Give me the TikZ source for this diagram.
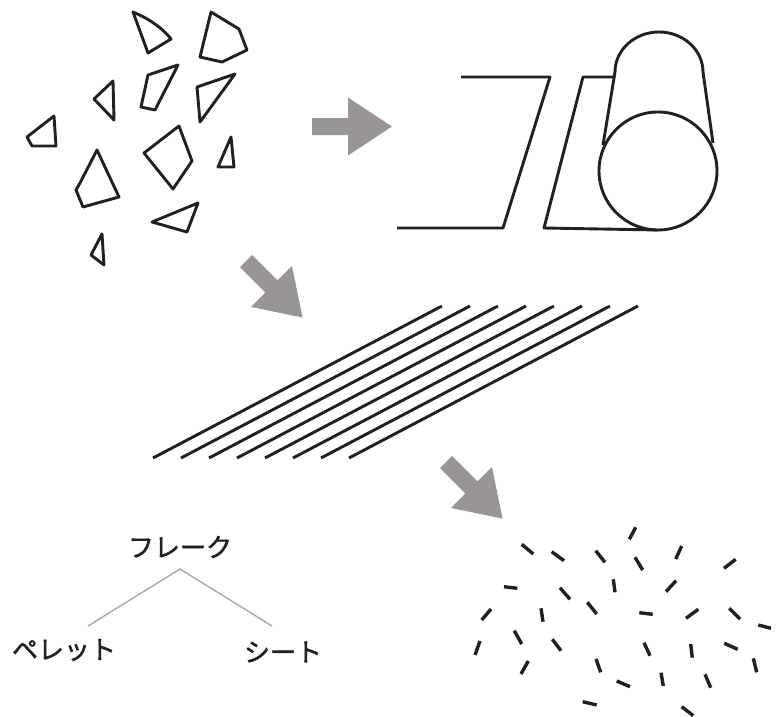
\documentclass[tikz,border=0pt]{standalone}
\usepackage{fontspec}
\newfontfamily\jp[FakeBold=1.5]{Noto Sans CJK JP}
\definecolor{inkc}{HTML}{231F20}
\definecolor{arrowc}{HTML}{9A9595}
\definecolor{branchc}{HTML}{A8A4A4}
\begin{document}
\begin{tikzpicture}[x=1pt,y=-1pt,
  ink/.style={draw=inkc, line width=2.9pt, line join=round},
  chip/.style={draw=inkc, line width=3.4pt},
  branch/.style={draw=branchc, line width=1.3pt},
  jplabel/.style={font=\jp\fontsize{26}{26}\selectfont, inner sep=0pt, text=inkc},
  fatarrow/.pic={\fill[arrowc] (0,-8.5) -- (36,-8.5) -- (36,-29) -- (80,0)
                  -- (36,29) -- (36,8.5) -- (0,8.5) -- cycle;}]
\useasboundingbox (0,0) rectangle (779,717);
\fill[white] (0,0) rectangle (779,717);

% broken flakes
\draw[ink] (133,12) .. controls (152,20) and (164,30) .. (171,39) -- (148,53) -- cycle;
\draw[ink] (211,12) -- (239,29) -- (247,50) -- (222,62) -- (200,57) -- cycle;
\draw[ink] (178,65) -- (155,110) -- (141,107) -- (148,75) -- cycle;
\draw[ink] (235,74) -- (200,122) -- (197,87) -- cycle;
\draw[ink] (113,81) -- (114,120) -- (94,99) -- cycle;
\draw[ink] (54,116) -- (56,146) -- (32,146) -- (27,137) -- cycle;
\draw[ink] (179,126) -- (192,161) -- (173,189) -- (144,153) -- cycle;
\draw[ink] (231,137) -- (234,167) -- (218,167) -- cycle;
\draw[ink] (97,150) -- (119,197) -- (83,207) -- (76,190) -- (80,183) -- cycle;
\draw[ink] (198,203) -- (187,232) -- (152,222) -- cycle;
\draw[ink] (102,234) -- (104,265) -- (91,255) -- cycle;

% process arrows
\pic at (312,126.5) {fatarrow};
\pic[rotate=-45] at (246,261) {fatarrow};
\pic[rotate=-45] at (446,462) {fatarrow};

% sheet running onto a roll
\draw[ink] (397,228) -- (503,228) -- (550,77) -- (461,77);
\draw[ink] (614,77) -- (583,77) -- (544,228) -- (658,230);
\draw[ink] (603,145) -- (615,72) arc[start angle=180, end angle=360, x radius=44, y radius=40]
           -- (713,143);
\draw[ink] (658,171) circle[radius=59];

% drawn fibres
\foreach \i in {0,...,7}
  \draw[ink] ({153+28*\i},458) -- ({442+28*\i},306);

% cut pellets
\foreach \a/\b/\c/\d in {
  629.3/539.3/635.7/527.3, 521.7/544.3/533.3/554, 551.7/551.7/564/560.7,
  595.7/550.7/605/562.3, 635/557.3/642.7/570, 675.7/559/681.7/546,
  724/568.3/735.7/559.3, 504/586.7/517.3/588.3, 560/587.7/570/599.3,
  613.3/579.3/615/592.3, 666/591.7/676/580.7, 481.7/620/491/609,
  541/608.3/543/621.7, 587.3/602.3/596.7/614, 639.3/612.7/652.7/614.3,
  686/618.3/698.3/609.3, 729.3/608.3/740/619, 758.3/625/771/628.3,
  514.3/630.7/521.7/644, 552.3/639.3/561/650.7, 475/655/480/641,
  644/642.7/650/655.7, 690.7/644/692.3/657.7, 724.3/643.3/737.7/649.3,
  753.3/658.3/756.7/672.3, 521/674/528.3/661, 596/659/600.7/672.3,
  616.7/681/630/686.7, 661/672.7/663.3/686, 705/674.3/710.7/687.7,
  582.7/701.7/596.7/705, 681.7/706.7/693.3/715.7}
  \draw[chip] (\a,\b) -- (\c,\d);

% product tree
\node[jplabel] (flake) at (180,547) {フレーク};
\node[jplabel] (pellet) at (64,650) {ペレット};
\node[jplabel] (sheet) at (283,652) {シート};
\coordinate (apex) at (180,569);
\coordinate (pelletend) at (88,626);
\coordinate (sheetend) at (272,626);
\draw[branch] (pelletend) -- (apex) -- (sheetend);
\end{tikzpicture}
\end{document}
